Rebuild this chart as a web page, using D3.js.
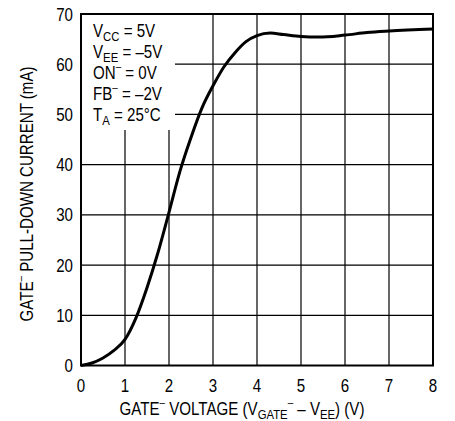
<!DOCTYPE html>
<html>
<head>
<meta charset="utf-8">
<script src="https://cdn.jsdelivr.net/npm/d3@7"></script>
<style>
  body { margin: 0; background: #fff; }
  svg text { font-family: "Liberation Sans", Arial, sans-serif; fill: #000; }
</style>
</head>
<body>
<div id="chart"></div>
<script>
// data
const voltage = [0, 0.25, 0.5, 0.75, 1, 1.25, 1.5, 1.75, 2, 2.25, 2.5, 2.75, 3, 3.25, 3.5, 3.75, 4, 4.3, 4.6, 5, 5.4, 6, 6.5, 7, 8]
const current = [0, 0.5, 1.5, 3, 5.2, 9.5, 15.5, 22.5, 30.5, 38.7, 45.4, 51.3, 55.7, 59.5, 62.3, 64.5, 65.7, 66.2, 65.9, 65.5, 65.4, 65.8, 66.3, 66.6, 67]

const xTicks = [0, 1, 2, 3, 4, 5, 6, 7, 8]
const yTicks = [0, 10, 20, 30, 40, 50, 60, 70]

// chart size
const width = 455, height = 421
const margin = { top: 14, right: 22, bottom: 55.5, left: 81 }
const squeeze = 0.84   // narrow the font to look like a condensed face

const svg = d3.select(`#chart`).append(`svg`)
  .attr(`width`, width)
  .attr(`height`, height)

const x = d3.scaleLinear().domain([0, 8]).range([margin.left, width - margin.right])
const y = d3.scaleLinear().domain([0, 70]).range([height - margin.bottom, margin.top])

// grid
svg.append(`g`).selectAll(`line`).data(xTicks).join(`line`)
  .attr(`x1`, d => x(d)).attr(`x2`, d => x(d))
  .attr(`y1`, y(0)).attr(`y2`, y(70))
  .attr(`stroke`, `#000`).attr(`stroke-width`, 1.2)

svg.append(`g`).selectAll(`line`).data(yTicks).join(`line`)
  .attr(`x1`, x(0)).attr(`x2`, x(8))
  .attr(`y1`, d => y(d)).attr(`y2`, d => y(d))
  .attr(`stroke`, `#000`).attr(`stroke-width`, 1.2)

// legend background hides the grid
svg.append(`rect`)
  .attr(`x`, x(0) + 1).attr(`y`, y(70) + 1)
  .attr(`width`, 93).attr(`height`, 115)
  .attr(`fill`, `#fff`)

// frame
svg.append(`rect`)
  .attr(`x`, x(0)).attr(`y`, y(70))
  .attr(`width`, x(8) - x(0)).attr(`height`, y(0) - y(70))
  .attr(`fill`, `none`).attr(`stroke`, `#000`).attr(`stroke-width`, 2)

// curve
const line = d3.line().x(d => x(d[0])).y(d => y(d[1])).curve(d3.curveMonotoneX)
svg.append(`path`)
  .attr(`d`, line(d3.zip(voltage, current)))
  .attr(`fill`, `none`).attr(`stroke`, `#000`).attr(`stroke-width`, 3)

// tick labels
svg.append(`g`).selectAll(`text`).data(xTicks).join(`text`)
  .attr(`transform`, d => `translate(${x(d)},392) scale(${squeeze},1)`)
  .attr(`text-anchor`, `middle`).attr(`font-size`, 18)
  .text(d => d)

svg.append(`g`).selectAll(`text`).data(yTicks).join(`text`)
  .attr(`transform`, d => `translate(73,${y(d) + 6.5}) scale(${squeeze},1)`)
  .attr(`text-anchor`, `end`).attr(`font-size`, 18)
  .text(d => d)

// text with sub/superscripts: parts = [[text, kind]]
function rich(sel, parts, size) {
  parts.forEach(([t, kind]) => {
    const ts = sel.append(`tspan`).text(t)
    if(kind === `sub`) ts.attr(`font-size`, size * 0.75).attr(`baseline-shift`, -4)
    else if(kind === `sup`) ts.attr(`font-size`, size * 0.65).attr(`baseline-shift`, 9)
    else ts.attr(`font-size`, size)
  })
}

// axis titles
const xt = svg.append(`text`)
  .attr(`transform`, `translate(242,415) scale(${squeeze},1)`)
  .attr(`text-anchor`, `middle`).attr(`font-size`, 18)
rich(xt, [[`GATE`], [`–`, `sup`], [` VOLTAGE (V`], [`GATE`, `sub`], [`–`, `sup`], [` – V`], [`EE`, `sub`], [`) (V)`]], 18)

const yt = svg.append(`text`)
  .attr(`transform`, `translate(33,194) rotate(-90) scale(${squeeze},1)`)
  .attr(`text-anchor`, `middle`).attr(`font-size`, 18)
rich(yt, [[`GATE`], [`–`, `sup`], [` PULL-DOWN CURRENT (mA)`]], 18)

// conditions
const conditions = [
  [[`V`], [`CC`, `sub`], [` = 5V`]],
  [[`V`], [`EE`, `sub`], [` = –5V`]],
  [[`ON`], [`–`, `sup`], [` = 0V`]],
  [[`FB`], [`–`, `sup`], [` = –2V`]],
  [[`T`], [`A`, `sub`], [` = 25°C`]]
]
conditions.forEach((parts, i) => {
  const t = svg.append(`text`)
    .attr(`transform`, `translate(93,${37 + i * 21}) scale(${squeeze},1)`)
    .attr(`font-size`, 18)
  rich(t, parts, 18)
})
</script>
</body>
</html>
